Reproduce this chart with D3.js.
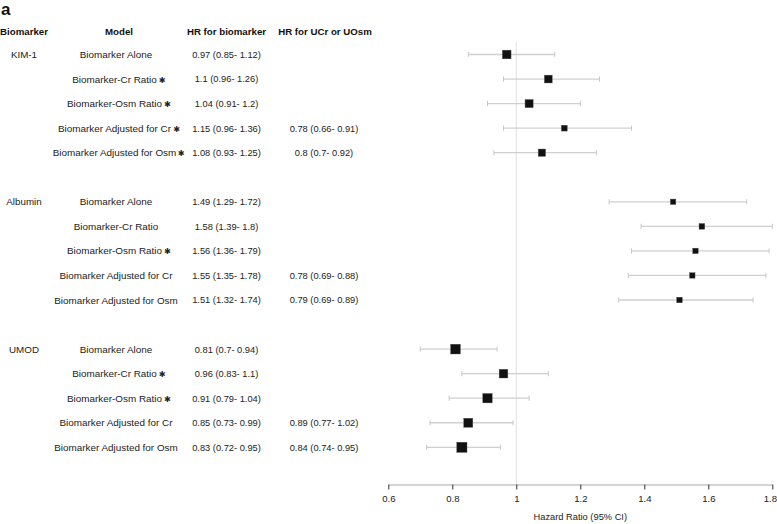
<!DOCTYPE html>
<html>
<head>
<meta charset="utf-8">
<script src="https://cdn.jsdelivr.net/npm/d3@7/dist/d3.min.js"></script>
<style>
  html, body { margin: 0; padding: 0; background: #fff; }
  svg { display: block; font-family: "Liberation Sans", Arial, sans-serif; }
</style>
</head>
<body>
<svg id="chart" width="777" height="524"></svg>
<script>
// ---------- data ----------
const biomarkers = ["KIM-1", "Albumin", "UMOD"];
const models = ["Biomarker Alone", "Biomarker-Cr Ratio", "Biomarker-Osm Ratio",
                "Biomarker Adjusted for Cr", "Biomarker Adjusted for Osm"];
const hr    = [[0.97, 1.1, 1.04, 1.15, 1.08], [1.49, 1.58, 1.56, 1.55, 1.51], [0.81, 0.96, 0.91, 0.85, 0.83]];
const hrLo  = [[0.85, 0.96, 0.91, 0.96, 0.93], [1.29, 1.39, 1.36, 1.35, 1.32], [0.7, 0.83, 0.79, 0.73, 0.72]];
const hrHi  = [[1.12, 1.26, 1.2, 1.36, 1.25], [1.72, 1.8, 1.79, 1.78, 1.74], [0.94, 1.1, 1.04, 0.99, 0.95]];
const starred = [[false, true, true, true, true], [false, false, true, false, false], [false, true, true, false, false]];
const uHr   = [[null, null, null, 0.78, 0.8], [null, null, null, 0.78, 0.79], [null, null, null, 0.89, 0.84]];
const uLo   = [[null, null, null, 0.66, 0.7], [null, null, null, 0.69, 0.69], [null, null, null, 0.77, 0.74]];
const uHi   = [[null, null, null, 0.91, 0.92], [null, null, null, 0.88, 0.89], [null, null, null, 1.02, 0.95]];
const headers = ["Biomarker", "Model", "HR for biomarker", "HR for UCr or UOsm"];
const xTicks = [0.6, 0.8, 1.0, 1.2, 1.4, 1.6, 1.8];
const xTitle = "Hazard Ratio (95% CI)";
const panelLabel = "a";

// ---------- build rows ----------
const rows = [];
biomarkers.forEach((b, g) => {
  models.forEach((m, k) => {
    rows.push({
      slot: g * 6 + k, group: b, first: k === 0, model: m,
      hr: hr[g][k], lo: hrLo[g][k], hi: hrHi[g][k], star: starred[g][k],
      uhr: uHr[g][k], ulo: uLo[g][k], uhi: uHi[g][k]
    });
  });
});

const svg = d3.select("#chart");
const x = d3.scaleLinear().domain([0.6, 1.8]).range([388.3, 772.3]);
const y = d3.scaleLinear().domain([0, 16]).range([54.5, 447.3]);
const info = rows.map(r => 1 / (r.hi - r.lo));
const sz = d3.scaleLinear().domain([0, d3.max(info)]).range([0, 10.2]);

const fmt = (v, l, h) => `${v} (${l}- ${h})`;
const txtColor = "#222";

// panel label
svg.append("text").attr("x", 1).attr("y", 15).attr("font-size", 17).attr("font-weight", "bold")
  .attr("fill", "#111").text(panelLabel);

// headers
const headerX = [24, 119, 226.5, 325];
svg.selectAll(".hdr").data(headers).join("text").attr("class", "hdr")
  .attr("x", (d, i) => headerX[i]).attr("y", 34.5).attr("text-anchor", "middle")
  .attr("font-size", 9.7).attr("font-weight", "bold").attr("fill", "#111").text(d => d);

// reference line at 1
svg.append("line").attr("x1", x(1)).attr("x2", x(1)).attr("y1", 42).attr("y2", 485)
  .attr("stroke", "#e2e2e2").attr("stroke-width", 1);

// table text
const tg = svg.append("g").attr("fill", txtColor);
tg.selectAll(".bm").data(rows.filter(r => r.first)).join("text").attr("class", "bm")
  .attr("font-size", 9.8)
  .attr("x", 24).attr("y", r => y(r.slot) + 3.5).attr("text-anchor", "middle").text(r => r.group);

const ml = tg.selectAll(".ml").data(rows).join("text").attr("class", "ml")
  .attr("font-size", 9.9)
  .attr("x", r => r.star ? 114.5 : 116).attr("y", r => y(r.slot) + 3.5)
  .attr("text-anchor", "middle").text(r => r.model);
ml.each(function (r) {
  if (!r.star) return;
  const bb = this.getBBox();
  tg.append("text").attr("x", bb.x + bb.width + 1.6).attr("y", y(r.slot) + 1.0)
    .attr("font-size", 8.2).attr("font-family", "DejaVu Sans").attr("fill", "#222")
    .attr("dominant-baseline", "middle").text("✱");
});

tg.selectAll(".hrt").data(rows).join("text").attr("class", "hrt")
  .attr("font-size", 9.3)
  .attr("x", 226.5).attr("y", r => y(r.slot) + 3.4).attr("text-anchor", "middle")
  .text(r => fmt(r.hr, r.lo, r.hi));
tg.selectAll(".uhr").data(rows.filter(r => r.uhr != null)).join("text").attr("class", "uhr")
  .attr("font-size", 9.3)
  .attr("x", 324).attr("y", r => y(r.slot) + 3.4).attr("text-anchor", "middle")
  .text(r => fmt(r.uhr, r.ulo, r.uhi));

// CI lines
const pg = svg.append("g");
pg.selectAll(".ci").data(rows).join("line").attr("class", "ci")
  .attr("x1", r => x(r.lo)).attr("x2", r => x(r.hi)).attr("y1", r => y(r.slot)).attr("y2", r => y(r.slot))
  .attr("stroke", "#d0d0d0").attr("stroke-width", 1.3);
["lo", "hi"].forEach(k => {
  pg.selectAll(".cap" + k).data(rows).join("line").attr("class", "cap" + k)
    .attr("x1", r => x(r[k])).attr("x2", r => x(r[k]))
    .attr("y1", r => y(r.slot) - 2.6).attr("y2", r => y(r.slot) + 2.6)
    .attr("stroke", "#c8c8c8").attr("stroke-width", 1);
});
pg.selectAll(".box").data(rows).join("rect").attr("class", "box")
  .attr("x", (r, i) => x(r.hr) - sz(info[i]) / 2).attr("y", (r, i) => y(r.slot) - sz(info[i]) / 2)
  .attr("width", (r, i) => sz(info[i])).attr("height", (r, i) => sz(info[i]))
  .attr("fill", "#111").attr("stroke", "#555").attr("stroke-width", 0.4);

// axis
const ax = svg.append("g").attr("transform", "translate(0,484.5)")
  .call(d3.axisBottom(x).tickValues(xTicks).tickSize(5).tickSizeOuter(0).tickPadding(6)
    .tickFormat(d => String(+d.toFixed(1))));
ax.select(".domain").attr("stroke", "#aaa").attr("stroke-width", 1.2);
ax.selectAll(".tick line").attr("stroke", "#333");
ax.selectAll(".tick text").attr("font-size", 9.6).attr("fill", txtColor)
  .attr("font-family", "Liberation Sans, Arial, sans-serif");
// keep the last label inside the picture, as in the reference
ax.selectAll(".tick text").filter(d => d === 1.8).attr("text-anchor", "end").attr("dx", 4.3);

svg.append("text").attr("x", (x.range()[0] + x.range()[1]) / 2).attr("y", 519.5)
  .attr("text-anchor", "middle").attr("font-size", 9.3).attr("fill", txtColor).text(xTitle);
</script>
</body>
</html>
